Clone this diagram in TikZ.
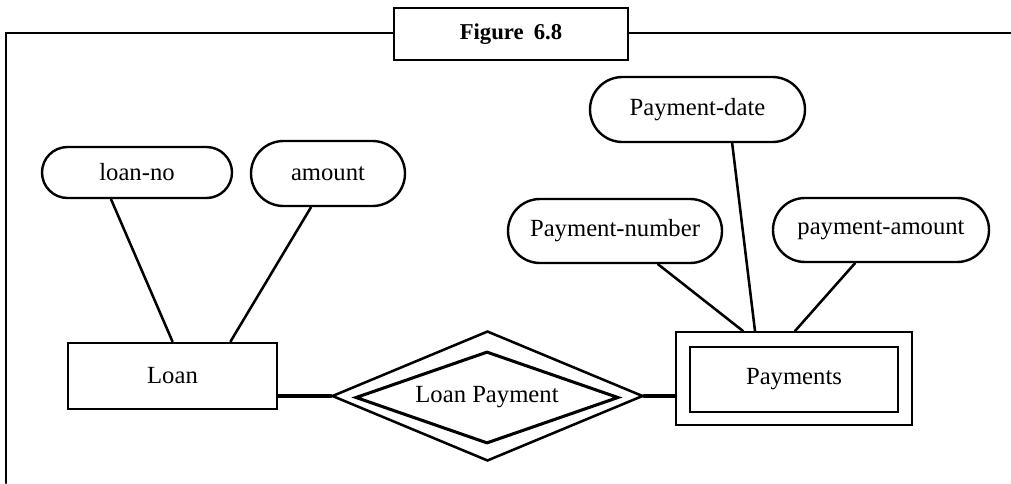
\documentclass[tikz,border=0pt]{standalone}
\usepackage{fontspec}
\setmainfont{Liberation Serif}
\usetikzlibrary{%
  shapes.geometric,% diamond
  shapes.misc,% rounded rectangle
  positioning
}

\begin{document}
\begin{tikzpicture}[
  x=0.75pt, y=-0.75pt, line width=1.8pt, line cap=round,
  font=\fontsize{18.5}{20}\selectfont,
  attr/.style={rounded rectangle, draw=black, line width=1.8pt, inner sep=0pt},
  ent/.style={rectangle, draw=black, inner sep=0pt},
  rel/.style={diamond, draw=black, inner sep=0pt, aspect=2.6},
  conn/.style={line width=1.9pt},
  link/.style={line width=3.4pt}
]
\useasboundingbox (0,0) rectangle (1011,483);

\node[ent, line width=1.9pt, minimum width=175.5pt, minimum height=39pt,
  font=\fontsize{17}{19}\selectfont\bfseries] (title) at (511,34) {Figure\hspace{0.45em}6.8};
\coordinate (frame-l) at (6,33);
\coordinate (frame-b) at (6,483);
\coordinate (frame-r) at (1011,33);

\node[attr, minimum width=142.5pt, minimum height=38.25pt] (loanno) at (137,172.5) {loan-no};
\node[attr, minimum width=115.5pt, minimum height=48.75pt] (amount) at (328,173.5) {amount};
  \node[ent, line width=2.2pt, minimum width=156.75pt, minimum height=49.5pt] (loan) at (172.5,376) {Loan};

\node[rel, line width=1.9pt, minimum width=233.25pt, minimum height=97.5pt] (lp) at (487.5,396) {};
  \node[rel, line width=2.3pt, minimum width=197.25pt, minimum height=69pt] (lp-in) at (487,397.5) {Loan Payment};

\node[attr, minimum width=161.25pt, minimum height=48.75pt] (pdate) at (697.5,109.5) {Payment-date};
\node[attr, minimum width=160.5pt, minimum height=48pt] (pnum) at (615,231) {Payment-number};
\node[attr, minimum width=162pt, minimum height=48pt] (pamt) at (881,230) {payment-amount};
  \node[ent, line width=1.5pt, minimum width=177pt, minimum height=69.75pt] (pay) at (794,378.5) {};
  \node[ent, line width=1.9pt, minimum width=156pt, minimum height=48.75pt] (pay-in) at (794,379.5) {Payments};

% frame
\draw (frame-b) -- (frame-l) -- (title.west |- frame-l);
\draw (title.east |- frame-r) -- (frame-r);

\draw[conn] ([xshift=-19.5pt]loanno.south) -- (loan.north);
\draw[conn] ([xshift=-12.75pt]amount.south) -- ([xshift=43.5pt]loan.north);
\draw[conn] ([xshift=26pt]pdate.south) -- ([xshift=-29.25pt]pay.north);
\draw[conn] ([xshift=32.25pt]pnum.south) -- ([xshift=-38.25pt]pay.north);
\draw[conn] ([xshift=-19.5pt]pamt.south) -- ([xshift=0.75pt]pay.north);

\draw[link] (lp.west -| loan.east) -- (lp.west);
\draw[link] (lp.east) -- (lp.east -| pay.west);
\end{tikzpicture}
\end{document}
